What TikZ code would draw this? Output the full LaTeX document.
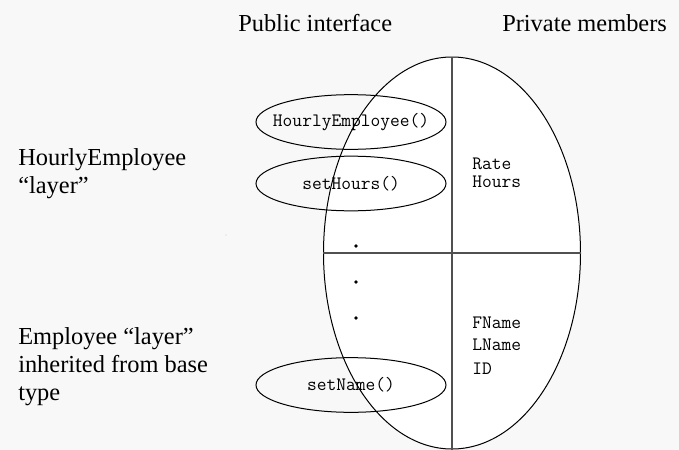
\documentclass[tikz,border=0pt]{standalone}
\usepackage{fontspec}
\setmainfont{Liberation Serif}
\usepackage{tikz}
\usetikzlibrary{shapes.geometric, positioning, backgrounds}
\definecolor{PaperGray}{HTML}{F8F8F8}
\definecolor{RuleGray}{HTML}{505050}
\newcommand{\methodname}[1]{\makebox[0pt]{#1}}

\begin{document}
\begin{tikzpicture}[x=0.75pt, y=-0.75pt,
    caption/.style={anchor=base west, inner sep=0pt, align=left,
                    font=\fontsize{18.3}{21}\selectfont},
    member/.style={anchor=base west, inner sep=0pt,
                   font=\ttfamily\fontsize{14.2}{15}\selectfont},
    method/.style={ellipse, draw=black, line width=0.75pt, inner sep=0pt,
                   minimum width=142.5pt, minimum height=41pt,
                   font=\ttfamily\fontsize{14.2}{15}\selectfont},
    divider/.style={draw=RuleGray, line width=0.8pt},
    dotmark/.style={circle, fill=black, inner sep=0pt, minimum size=2.8pt}]
\fill[PaperGray] (0,0) rectangle (679,450);
\useasboundingbox (0,0) rectangle (679,450);

% the object, split into layers and columns
\node[ellipse, draw=black, line width=0.75pt, fill=white, inner sep=0pt,
      minimum width=192.75pt, minimum height=294pt] (object) at (452,253) {};
\draw[divider] (object.north) -- (object.south);
\draw[divider] (object.west) -- (object.east);

% column headings
\node[caption] (pubhead) at (238,31) {Public interface};
\node[caption] (privhead) at (502,31) {Private members};

% layer labels (anchored on their last line)
\node[caption] (hourlylayer) at (18,193) {HourlyEmployee\\“layer”};
\node[caption] (baselayer) at (18,400) {Employee “layer”\\inherited from base\\type};
\node[circle, fill=black!55, inner sep=0pt, minimum size=0.6pt] (speck) at (226,235) {};

% public methods
\node[method] (ctor) at (351,122) {\methodname{HourlyEmployee()}};
\node[method] (sethours) at (351,183.5) {\methodname{setHours()}};
\node[method] (setname) at (351,385) {\methodname{setName()}};
\foreach \y/\n in {246/a, 282/b, 318/c}
  \node[dotmark] (dot\n) at (356,\y) {};

% private data
\node[member] (rate) at (472,169) {Rate};
\node[member] (hours) at (472,187) {Hours};
\node[member] (fname) at (472,328) {FName};
\node[member] (lname) at (472,350) {LName};
\node[member] (id) at (472,374) {ID};
\end{tikzpicture}
\end{document}
